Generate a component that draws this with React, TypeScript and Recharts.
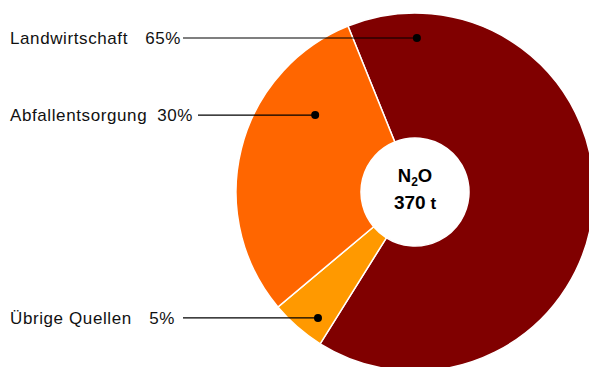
import React from 'react';
import { PieChart, Pie, Cell } from 'recharts';

// emission sources, in drawing order (clockwise from the top-left edge)
const sources = ['Landwirtschaft', 'Übrige Quellen', 'Abfallentsorgung'];
const shares = [65, 5, 30];
const colors = ['#800000', '#FF9900', '#FF6600'];

const gas = 'N2O';
const total = '370 t';

// where each leader line ends inside its slice, and where its text sits
const labelLayout = [
  { angle: 89.3, radius: 154, lineFrom: 183, valueEnd: 181 },
  { angle: 232.4, radius: 159, lineFrom: 183, valueEnd: 175 },
  { angle: 142.4, radius: 126, lineFrom: 198, valueEnd: 193 },
];

const data = sources.map((name, i) => ({ name, value: shares[i] }));

const RAD = Math.PI / 180;
const font = 'Liberation Sans, Arial, Helvetica, sans-serif';

const renderLabel = (props: any) => {
  const { cx, cy, index, value, name } = props;
  const l = labelLayout[index];
  const x = cx + l.radius * Math.cos(l.angle * RAD);
  const y = cy - l.radius * Math.sin(l.angle * RAD);
  return (
    <g key={`lbl-${index}`}>
      <line x1={l.lineFrom} y1={y} x2={x} y2={y} stroke="#000" strokeWidth={1.2} />
      <circle cx={x} cy={y} r={4} fill="#000" />
      <text x={10} y={y + 6} fontFamily={font} fontSize={17} letterSpacing={0.6} fill="#111">
        {name}
      </text>
      <text x={l.valueEnd} y={y + 6} textAnchor="end" fontFamily={font} fontSize={17} letterSpacing={0.6} fill="#111">
        {value}%
      </text>
      {index === 0 && (
        <g fontFamily={font} fontWeight="bold" fill="#000">
          <text x={cx} y={cy - 10} textAnchor="middle" fontSize={18.5}>
            {gas[0]}
            <tspan fontSize={12} dy={4}>{gas[1]}</tspan>
            <tspan dy={-4}>{gas[2]}</tspan>
          </text>
          <text x={cx} y={cy + 17} textAnchor="middle" fontSize={19}>
            {total.split(' ')[0]}
            <tspan fontSize={17}> {total.split(' ')[1]}</tspan>
          </text>
        </g>
      )}
    </g>
  );
};

export default function App() {
  return (
    <div style={{ position: 'fixed', left: 0, top: 0, width: 589, height: 367, background: '#fff', overflow: 'hidden' }}>
      <PieChart width={589} height={367} margin={{ top: 0, right: 0, bottom: 0, left: 0 }}>
        <Pie
          data={data}
          dataKey="value"
          nameKey="name"
          cx={415}
          cy={192}
          innerRadius={54}
          outerRadius={179}
          startAngle={112}
          endAngle={-248}
          stroke="#fff"
          strokeWidth={1.5}
          label={renderLabel}
          labelLine={false}
          isAnimationActive={false}
        >
          {data.map((d, i) => (
            <Cell key={d.name} fill={colors[i]} />
          ))}
        </Pie>
      </PieChart>
    </div>
  );
}
